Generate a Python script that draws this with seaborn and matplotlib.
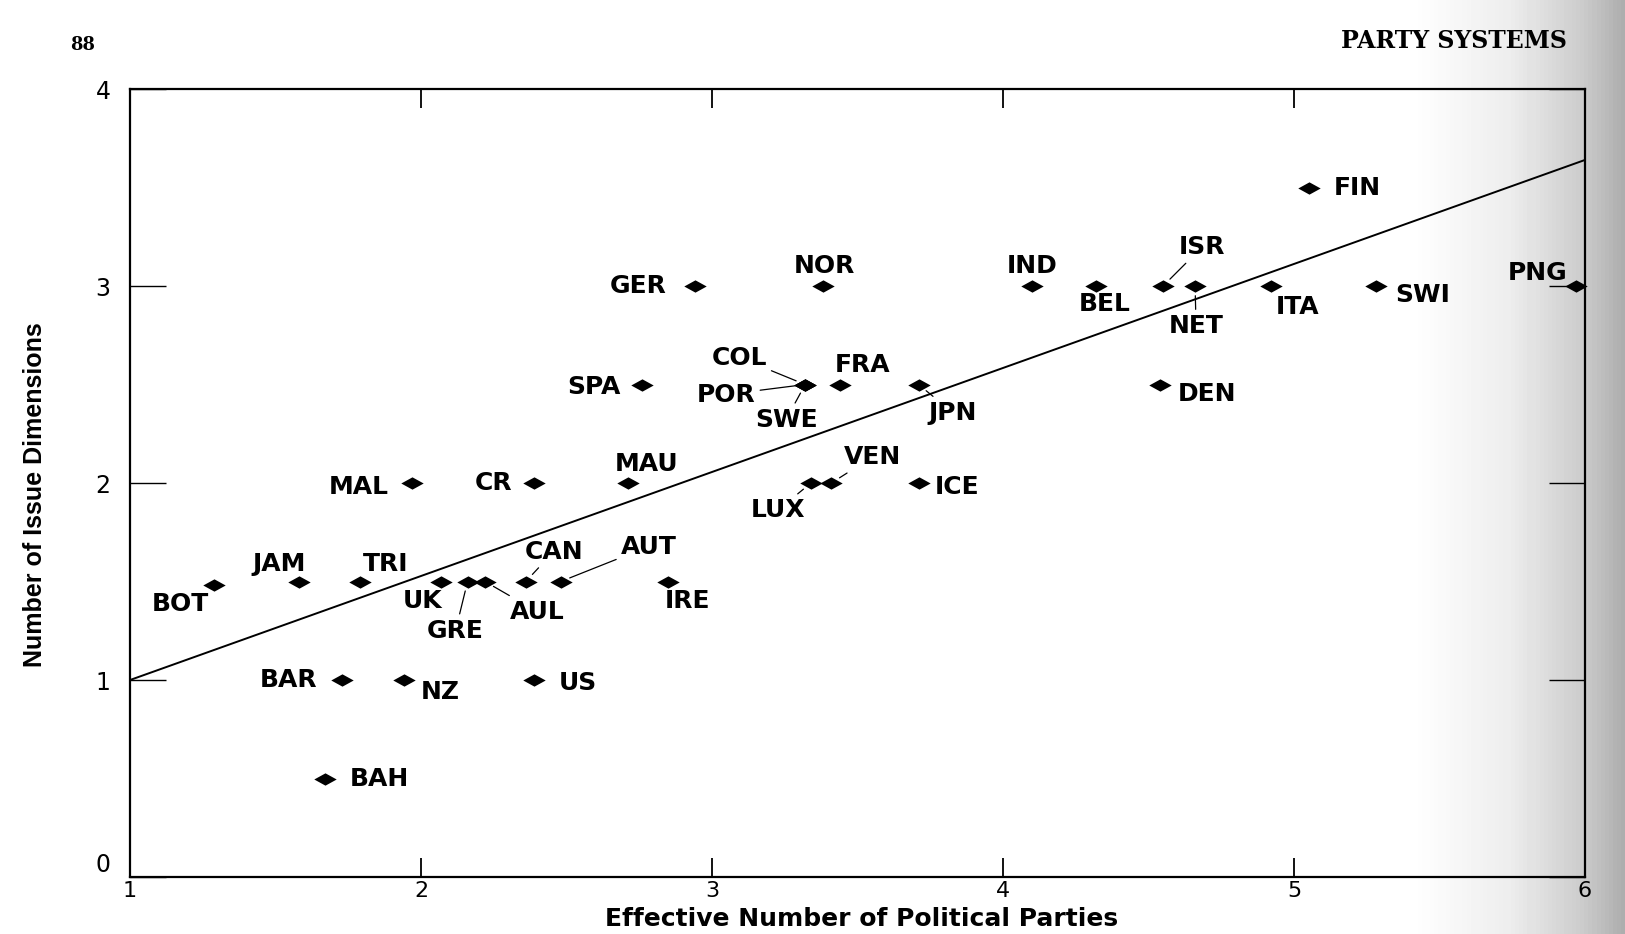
import numpy as np
import pandas as pd
import seaborn as sns
from matplotlib import pyplot as plt

# country codes, effective number of parties and number of issue dimensions
countries = ["FIN", "PNG", "SWI", "ITA", "NET", "ISR", "BEL", "IND", "NOR", "GER",
             "COL", "POR", "SWE", "FRA", "JPN", "SPA", "DEN",
             "VEN", "LUX", "ICE", "MAU", "CR", "MAL",
             "JAM", "TRI", "BOT", "UK", "GRE", "AUL", "CAN", "AUT", "IRE",
             "BAR", "NZ", "US", "BAH"]
parties = [5.05, 5.97, 5.28, 4.92, 4.66, 4.55, 4.32, 4.10, 3.38, 2.94,
           3.32, 3.32, 3.32, 3.44, 3.71, 2.76, 4.54,
           3.41, 3.34, 3.71, 2.71, 2.39, 1.97,
           1.58, 1.79, 1.29, 2.07, 2.16, 2.22, 2.36, 2.48, 2.85,
           1.73, 1.94, 2.39, 1.67]
dimensions = [3.5, 3.0, 3.0, 3.0, 3.0, 3.0, 3.0, 3.0, 3.0, 3.0,
              2.5, 2.5, 2.5, 2.5, 2.5, 2.5, 2.5,
              2.0, 2.0, 2.0, 2.0, 2.0, 2.0,
              1.5, 1.5, 1.48, 1.5, 1.5, 1.5, 1.5, 1.5, 1.5,
              1.0, 1.0, 1.0, 0.5]

fit_parties = [1.0, 6.0]
fit_dimensions = [1.0, 3.64]

x_ticks = [1, 2, 3, 4, 5, 6]
y_ticks = [0, 1, 2, 3, 4]

# where each label goes: pixel offset from its point, alignment, leader line
label_pos = {
    "FIN": (25, 0, "left", False), "PNG": (-9, 13, "right", False),
    "SWI": (20, -9, "left", False), "ITA": (27, -21, "center", False),
    "NET": (1, -40, "center", True), "ISR": (39, 39, "center", True),
    "BEL": (9, -18, "center", False), "IND": (0, 20, "center", False),
    "NOR": (2, 20, "center", False), "GER": (-28, 0, "right", False),
    "COL": (-66, 27, "center", True), "POR": (-79, -10, "center", True),
    "SWE": (-19, -35, "center", True), "FRA": (23, 20, "center", False),
    "JPN": (34, -28, "center", True), "SPA": (-22, -2, "right", False),
    "DEN": (18, -9, "left", False), "VEN": (41, 26, "center", True),
    "LUX": (-33, -27, "center", True), "ICE": (16, -4, "left", False),
    "MAU": (19, 19, "center", False), "CR": (-22, 0, "right", False),
    "MAL": (-24, -4, "right", False), "JAM": (-20, 18, "center", False),
    "TRI": (26, 18, "center", False), "BOT": (-34, -19, "center", False),
    "UK": (-19, -19, "center", False), "GRE": (-12, -49, "center", True),
    "AUL": (52, -30, "center", True), "CAN": (28, 30, "center", True),
    "AUT": (88, 35, "center", True), "IRE": (19, -19, "center", False),
    "BAR": (-25, 0, "right", False), "NZ": (37, -12, "center", False),
    "US": (24, -3, "left", False), "BAH": (25, 0, "left", False),
}

df = pd.DataFrame({"country": countries, "parties": parties, "dimensions": dimensions})

sns.set_style("white")
plt.rcParams["font.family"] = ["DejaVu Sans"]
plt.rcParams["text.color"] = "black"
plt.rcParams["axes.labelcolor"] = "black"

fig = plt.figure(figsize=(16.25, 9.34), dpi=100)

# grey scanner shading along the right edge of the page
bg = fig.add_axes([0, 0, 1, 1], zorder=-1)
xs = np.linspace(0, 1, 400)
shade = np.interp(xs, [0, 0.87, 0.93, 0.975, 1.0], [1.0, 1.0, 0.93, 0.8, 0.68])
bg.imshow(shade[np.newaxis, :], cmap="gray", vmin=0, vmax=1, aspect="auto", extent=[0, 1, 0, 1])
bg.axis("off")

ax = fig.add_axes([0.08, 0.061, 0.8954, 0.8437])
ax.set_facecolor("none")

diamond = [(-1, 0), (0, 0.55), (1, 0), (0, -0.55), (-1, 0)]
sns.lineplot(x=fit_parties, y=fit_dimensions, color="black", lw=1.4, ax=ax)
sns.scatterplot(data=df, x="parties", y="dimensions", marker=diamond, s=260,
                color="black", edgecolor="black", linewidth=0, ax=ax, zorder=3, clip_on=False)

ax.set_xlim(1, 6)
ax.set_ylim(0, 4)
ax.set_xticks(x_ticks)
ax.set_yticks(y_ticks)
ax.tick_params(axis="x", direction="in", length=14, width=1.3, top=True, bottom=True,
               labelsize=16, pad=3, colors="black")
ax.tick_params(axis="y", direction="in", length=26, width=1.0, left=True, right=True,
               labelsize=17, pad=14, colors="black")
ax.yaxis.get_major_ticks()[0].label1.set_va("bottom")
for sp in ax.spines.values():
    sp.set_color("black")
    sp.set_linewidth(1.6)

ax.set_xlabel("Effective Number of Political Parties", fontsize=18, fontweight="bold")
ax.set_ylabel("Number of Issue Dimensions", fontsize=18, fontweight="bold",
              family="Liberation Sans")
ax.xaxis.label.set_va("baseline")
ax.xaxis.set_label_coords(0.503, -0.062)
ax.yaxis.set_label_coords(-0.057, 0.485)

for name, x, y in zip(countries, parties, dimensions):
    dx, dy, ha, leader = label_pos[name]
    arrow = dict(arrowstyle="-", color="black", lw=0.9, shrinkA=1, shrinkB=7) if leader else None
    ax.annotate(name, (x, y), xytext=(dx, dy), textcoords="offset pixels", ha=ha, va="center",
                fontsize=18, fontweight="bold", color="black", arrowprops=arrow,
                annotation_clip=False)

fig.text(83 / 1625, 1 - 45 / 934, "88", family="DejaVu Serif", weight="bold", fontsize=13,
         ha="center", va="center")
fig.text(1567 / 1625, 1 - 41 / 934, "PARTY SYSTEMS", family="DejaVu Serif", weight="bold",
         fontsize=17, ha="right", va="center")

fig.savefig("out.png", dpi=100)
